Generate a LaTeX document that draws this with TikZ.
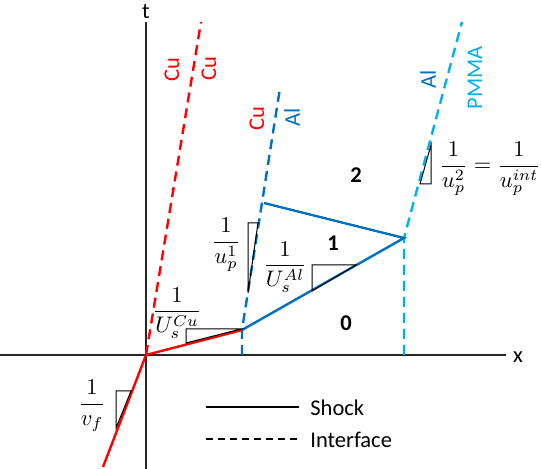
\RequirePackage{fix-cm}
\documentclass[tikz,border=0pt]{standalone}
\usepackage{fontspec}
\setmainfont{Carlito}
\definecolor{cured}{RGB}{255,0,0}
\definecolor{dblue}{RGB}{0,112,192}
\definecolor{lblue}{RGB}{0,176,240}
\begin{document}
\begin{tikzpicture}[x=0.5pt,y=-0.5pt,
  txt/.style={font=\fontsize{11.25}{13.5}\selectfont, inner sep=0pt},
  mth/.style={font=\fontsize{11.25}{13.5}\selectfont, inner sep=0pt},
  rot/.style={txt, rotate=90},
  region/.style={txt, font=\fontsize{11.25}{13.5}\selectfont\bfseries},
  axis/.style={draw=black!85, line width=0.6pt},
  shockline/.style={line width=1.2pt},
  ifline/.style={line width=1.2pt, dash pattern=on 5pt off 3pt},
  tri/.style={draw=black, line width=0.5pt},
]
\useasboundingbox (0,0) rectangle (541,469);
% key points
\coordinate (O) at (146,355);
\coordinate (A) at (242,330);
\coordinate (B) at (404,238);
\coordinate (D) at (280,88);
\coordinate (C) at (264,203);
\coordinate (Rtop) at (201,22);
\coordinate (Ltop) at (462,22);
\coordinate (Fbot) at (103,467);
\coordinate (Ax) at (242,355);
\coordinate (Bx) at (404,355);
\coordinate (tT) at (146,22);
\coordinate (tB) at (146,469);
\coordinate (xL) at (0,355);
\coordinate (xR) at (506,355);
% axes
\draw[axis] (tB) -- (tT);
\draw[axis] (xL) -- (xR);
\node[txt] (tlab) at (146,11) {t};
\node[txt] (xlab) at (518,357) {x};
% interfaces
\draw[ifline, cured] (O) -- (Rtop);
\draw[ifline, dblue] (Ax) -- (A) -- (D);
\draw[ifline, lblue] (Bx) -- (B) -- (Ltop);
% shocks
\draw[shockline, cured] (Fbot) -- (O) -- (A);
\draw[shockline, dblue] (A) -- (B) -- (C);
% slope triangles
\draw[tri] (116,391) -- (131,391) -- (116,428) -- cycle;
\draw[tri] (186,343) -- (186,329) -- (241,329) -- cycle;
\draw[tri] (248,293) -- (248,223) -- (258,223) -- cycle;
\draw[tri] (312,291) -- (312,265) -- (356,265) -- cycle;
\draw[tri] (420,184) -- (431,184) -- (431,145) -- cycle;
% slope labels
\node[mth] (vf) at (92,406) {$\displaystyle\frac{1}{v_f}$};
\node[mth] (usCu) at (177,313) {$\displaystyle\frac{1}{U_s^{Cu}}$};
\node[mth] (up1) at (226,245) {$\displaystyle\frac{1}{u_p^1}$};
\node[mth] (usAl) at (285,267) {$\displaystyle\frac{1}{U_s^{Al}}$};
\node[mth] (up2) at (490,169) {$\displaystyle\frac{1}{u_p^2}=\frac{1}{u_p^{int}}$};
% material labels
\node[rot, text=cured] (cu1) at (172,70) {Cu};
\node[rot, text=cured] (cu2) at (209,69) {Cu};
\node[rot, text=cured] (cu3) at (257,119) {Cu};
\node[rot, text=dblue] (al1) at (292,117) {Al};
\node[rot, text=dblue] (al2) at (428,79) {Al};
\node[rot, text=lblue] (pmma) at (475,78) {PMMA};
% region numbers
\node[region] (r2) at (356,175) {2};
\node[region] (r1) at (333,243) {1};
\node[region] (r0) at (346,323) {0};
% legend
\coordinate (l1a) at (206,407);
\coordinate (l1b) at (299,407);
\coordinate (l2a) at (206,439);
\coordinate (l2b) at (299,439);
\draw[black, line width=1.2pt] (l1a) -- (l1b);
\draw[black, line width=1.2pt, dash pattern=on 3.5pt off 2.5pt] (l2a) -- (l2b);
\node[txt, anchor=west] (shk) at (310,408) {Shock};
\node[txt, anchor=west] (itf) at (310,440) {Interface};
\end{tikzpicture}
\end{document}
